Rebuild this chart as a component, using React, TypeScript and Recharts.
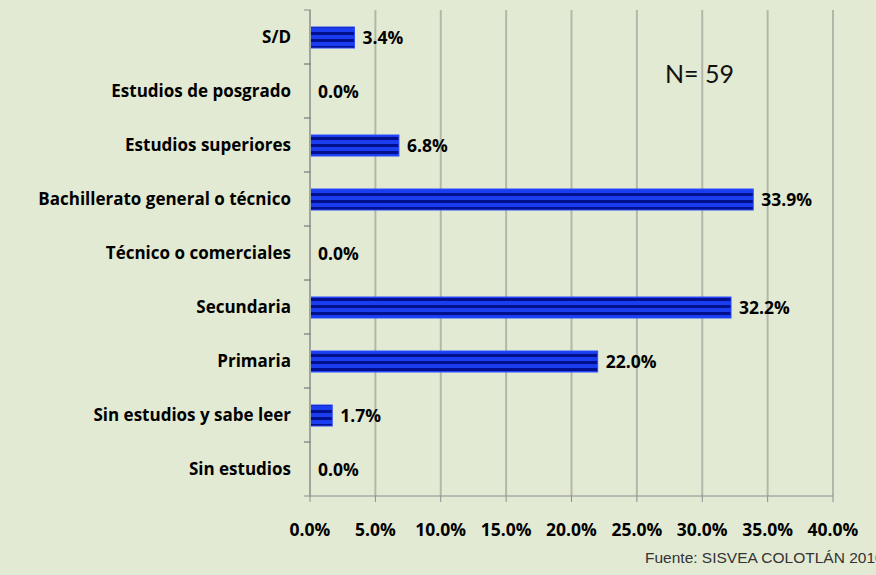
import React from 'react';
import { BarChart, Bar, XAxis, YAxis, CartesianGrid, LabelList } from 'recharts';

const categories = [
  'S/D',
  'Estudios de posgrado',
  'Estudios superiores',
  'Bachillerato general o técnico',
  'Técnico o comerciales',
  'Secundaria',
  'Primaria',
  'Sin estudios y sabe leer',
  'Sin estudios',
];
const percentages = [3.4, 0.0, 6.8, 33.9, 0.0, 32.2, 22.0, 1.7, 0.0];
const xTicks = [0, 5, 10, 15, 20, 25, 30, 35, 40];

const data = categories.map((name, i) => ({ name, value: percentages[i] }));

const BG = '#e3ead3';
const FONT = '"Open Sans", Lato, sans-serif';
const HALF_BAND = 27;

const pct = (v: any) => `${Number(v).toFixed(1)}%`;

const CategoryTick = (props: any) => {
  const { x, y, payload } = props;
  return (
    <g>
      <line x1={x + 2} x2={x + 9} y1={y - HALF_BAND} y2={y - HALF_BAND} stroke="#8c8c8c" />
      <line x1={x + 2} x2={x + 9} y1={y + HALF_BAND} y2={y + HALF_BAND} stroke="#8c8c8c" />
      <text x={x - 11} y={y} dy="0.35em" textAnchor="end" fontFamily={FONT} fontWeight={700} fontSize={17} fill="#000">
        {payload.value}
      </text>
    </g>
  );
};

// striped bar, nothing drawn for zero values (label still shows)
const StripedBar = (props: any) => {
  const { x, y, width, height, value } = props;
  const v = Array.isArray(value) ? value[1] - value[0] : value;
  if (!v) return null;
  return <rect x={x} y={y} width={width} height={height} fill="url(#stripes)" stroke="#2a4cff" strokeWidth={1} />;
};

const ValueLabel = (props: any) => {
  const { x, y, width, height, value } = props;
  return (
    <text
      x={Number(x) + Number(width) + 8}
      y={Number(y) + Number(height) / 2}
      dy="0.35em"
      fontFamily={FONT}
      fontWeight={700}
      fontSize={17.5}
      fill="#000"
    >
      {pct(value)}
    </text>
  );
};

export default function App() {
  return (
    <div style={{ position: 'absolute', left: 0, top: 0, width: 876, height: 575, background: BG, overflow: 'hidden' }}>
      <BarChart
        width={876}
        height={575}
        data={data}
        layout="vertical"
        margin={{ top: 10, right: 43, bottom: 39, left: 0 }}
        barSize={21}
      >
        <defs>
          <pattern id="stripes" width="8" height="7" patternUnits="userSpaceOnUse">
            <rect width="8" height="7" fill="#1b3df0" />
            <rect y="4" width="8" height="3" fill="#000f8c" />
          </pattern>
        </defs>
        <CartesianGrid horizontal={false} stroke="#b3b7aa" strokeWidth={2} />
        <XAxis
          type="number"
          domain={[0, 40]}
          ticks={xTicks}
          tickFormatter={pct}
          height={40}
          axisLine={{ stroke: '#8c8c8c' }}
          tickLine={{ stroke: '#8c8c8c' }}
          tickSize={6}
          tickMargin={22}
          tick={{ fontFamily: FONT, fontWeight: 700, fontSize: 17.5, fill: '#000' }}
          interval={0}
        />
        <YAxis
          type="category"
          dataKey="name"
          width={310}
          axisLine={{ stroke: '#a0a49a', strokeWidth: 2 }}
          tickLine={false}
          tick={<CategoryTick />}
          interval={0}
        />
        <Bar dataKey="value" minPointSize={0.01} shape={<StripedBar />} isAnimationActive={false}>
          <LabelList dataKey="value" content={<ValueLabel />} />
        </Bar>
      </BarChart>
      <div style={{ position: 'absolute', left: 665, top: 58, fontFamily: 'Lato, sans-serif', fontSize: 25, color: '#111' }}>
        N= 59
      </div>
      <div style={{ position: 'absolute', left: 645, top: 549, fontFamily: '"Liberation Sans", Arial, sans-serif', fontSize: 15.5, color: '#333', whiteSpace: 'nowrap' }}>
        Fuente: SISVEA COLOTLÁN 2010
      </div>
    </div>
  );
}
